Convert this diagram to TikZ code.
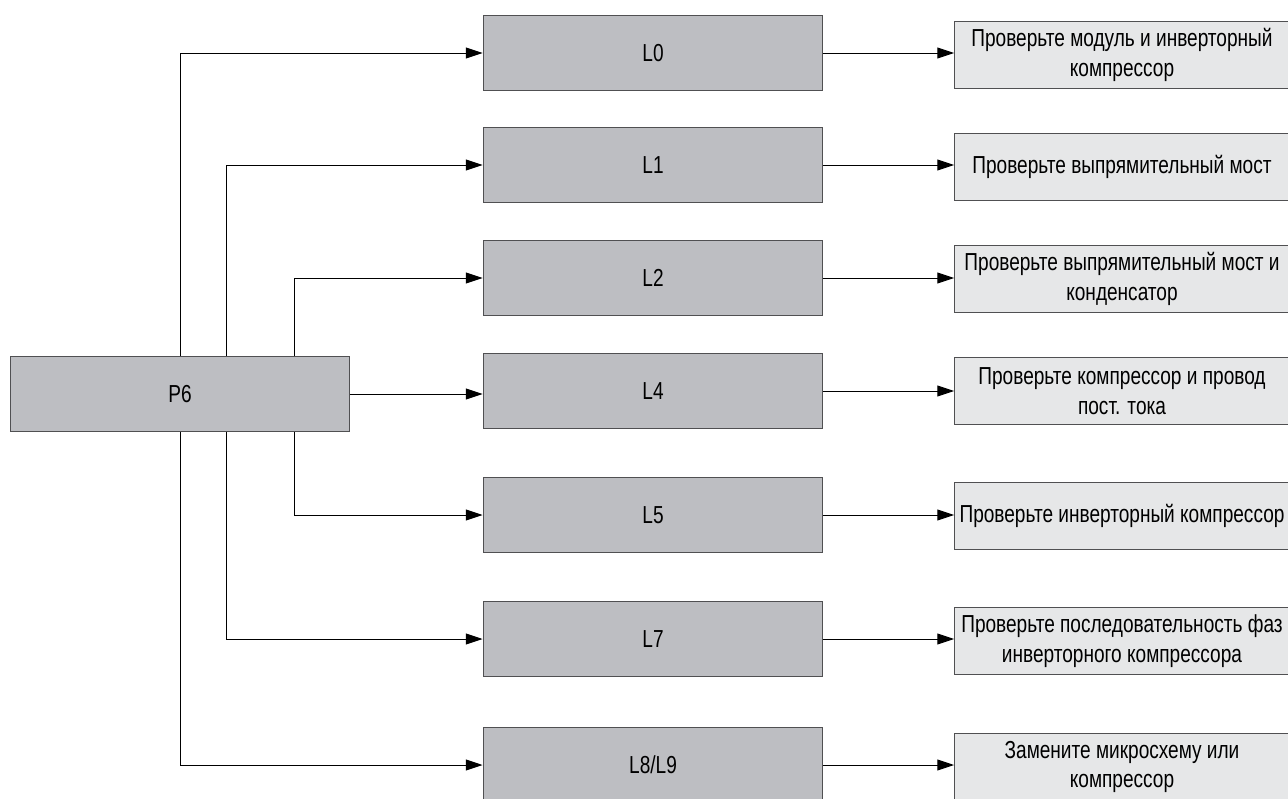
\documentclass[tikz,border=0pt]{standalone}
\usepackage{fontspec}
\setmainfont{Liberation Sans}[FakeStretch=0.775]
\usetikzlibrary{arrows.meta, positioning, calc}
\definecolor{boxgray}{RGB}{189,190,194}
\definecolor{notegray}{RGB}{230,231,232}
\definecolor{edgegray}{RGB}{80,80,82}

\begin{document}
\begin{tikzpicture}[x=0.02cm, y=-0.02cm, >={Triangle[length=9.5pt,width=6.2pt]},
    line width=0.55pt,
    codebox/.style={draw=edgegray, fill=boxgray, minimum width=6.8cm,
      minimum height=1.5cm, inner sep=0pt, font=\fontsize{14}{17}\selectfont},
    hintbox/.style={draw=edgegray, fill=notegray, minimum width=6.7cm,
      minimum height=1.33cm, inner sep=0pt, align=center,
      font=\fontsize{14}{17}\selectfont}]
  \useasboundingbox (0,0) rectangle (1288,798);

  % error code and its sub-codes
  \node[codebox] (p6) at (180,394) {P6};
  \node[codebox] (l0) at (653,53) {L0};
  \node[codebox] (l1) at (653,165) {L1};
  \node[codebox] (l2) at (653,278) {L2};
  \node[codebox] (l4) at (653,391) {L4};
  \node[codebox] (l5) at (653,515) {L5};
  \node[codebox] (l7) at (653,639) {L7};
  \node[codebox] (l8) at (653,765) {L8/L9};

  % what to check
  \node[hintbox] (r0) at (1122,55) {Проверьте модуль и инверторный\\компрессор};
  \node[hintbox] (r1) at (1122,167) {Проверьте выпрямительный мост};
  \node[hintbox] (r2) at (1122,279) {Проверьте выпрямительный мост и\\конденсатор};
  \node[hintbox] (r4) at (1122,391) {Проверьте компрессор и провод\\пост. тока};
  \node[hintbox] (r5) at (1122,516) {Проверьте инверторный компрессор};
  \node[hintbox] (r7) at (1122,641) {Проверьте последовательность фаз\\инверторного компрессора};
  \node[hintbox] (r8) at (1122,767) {Замените микросхему или\\компрессор};

  \draw[->] (p6.north) |- (l0);
  \draw[->] ($(p6.north)+(46,0)$) |- (l1);
  \draw[->] ($(p6.north)+(114,0)$) |- (l2);
  \draw[->] (p6.east) -- (p6.east -| l4.west);
  \draw[->] ($(p6.south)+(114,0)$) |- (l5);
  \draw[->] ($(p6.south)+(46,0)$) |- (l7);
  \draw[->] (p6.south) |- (l8);

  \foreach \i in {0,1,2,4,5,7,8}
    \draw[->] (l\i.east) -- (l\i.east -| r\i.west);
\end{tikzpicture}
\end{document}
